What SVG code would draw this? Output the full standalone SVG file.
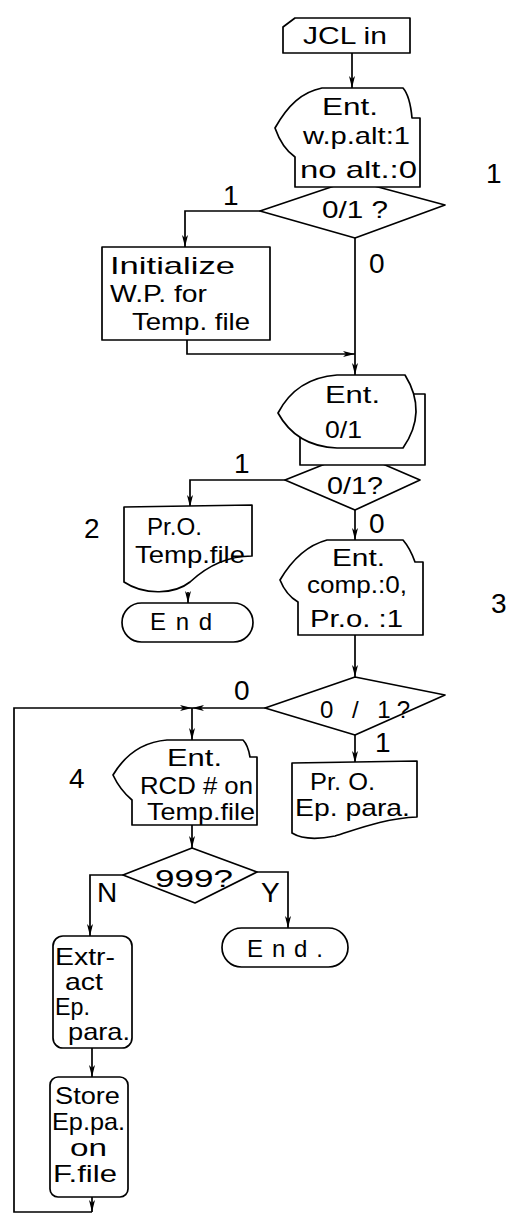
<svg xmlns="http://www.w3.org/2000/svg" width="521" height="1214" viewBox="0 0 521 1214">
<style>
.s{fill:#fff;stroke:#000;stroke-width:1.7;stroke-linejoin:round}
.c{fill:none;stroke:#000;stroke-width:1.7}
.t{font-family:"Liberation Sans",Arial,sans-serif;font-size:24px;fill:#000}
.l{font-family:"Liberation Sans",Arial,sans-serif;font-size:28px;fill:#000}
</style>
<defs>
<marker id="a" viewBox="0 0 12 6" refX="12" refY="3" markerWidth="12" markerHeight="6" markerUnits="userSpaceOnUse" orient="auto">
<path d="M0,0 L12,3 L0,6 L3,3 Z" fill="#000"/>
</marker>
</defs>
<rect width="521" height="1214" fill="#fff"/>
<g id="connectors">
<path class="c" d="M352,53 V88" marker-end="url(#a)"/>
<path class="c" d="M260,211 H185 V247" marker-end="url(#a)"/>
<path class="c" d="M355,238 V375" marker-end="url(#a)"/>
<path class="c" d="M187,340 V354 H355" marker-end="url(#a)"/>
<path class="c" d="M285,480 H190 V507" marker-end="url(#a)"/>
<path class="c" d="M355,510 V540" marker-end="url(#a)"/>
<path class="c" d="M188,592 V603" marker-end="url(#a)"/>
<path class="c" d="M355,635 V677" marker-end="url(#a)"/>
<path class="c" d="M265,708 H192" marker-end="url(#a)"/>
<path class="c" d="M92,1197 V1212" marker-end="url(#a)"/>
<path class="c" d="M92,1212 H14 V708 H192" marker-end="url(#a)"/>
<path class="c" d="M192,708 V740" marker-end="url(#a)"/>
<path class="c" d="M355,735 V763" marker-end="url(#a)"/>
<path class="c" d="M192,825 V848" marker-end="url(#a)"/>
<path class="c" d="M123,875 H90 V936" marker-end="url(#a)"/>
<path class="c" d="M257,872 H288 V928" marker-end="url(#a)"/>
<path class="c" d="M92,1048 V1077" marker-end="url(#a)"/>
</g>
<g id="labels">
<text class="l" x="223" y="205">1</text>
<text class="l" x="486" y="183">1</text>
<text class="l" x="369" y="273">0</text>
<text class="l" x="234" y="473">1</text>
<text class="l" x="369" y="533">0</text>
<text class="l" x="84" y="538">2</text>
<text class="l" x="491" y="613">3</text>
<text class="l" x="234" y="700">0</text>
<text class="l" x="375" y="752">1</text>
<text class="l" x="69" y="788">4</text>
<text class="l" x="97" y="902">N</text>
<text class="l" x="261" y="902">Y</text>
</g>
<g id="jcl">
<path class="s" d="M295,18 H410 V53 H283 V27 Z"/>
<text class="t" x="303" y="44" textLength="84" lengthAdjust="spacingAndGlyphs" font-size="29">JCL in</text>
</g>
<g id="d1">
<polygon class="s" points="260,211 352,180 445,205 355,238"/>
<text class="t" x="322" y="218" textLength="66" lengthAdjust="spacingAndGlyphs" font-size="27">0/1 ?</text>
</g>
<g id="in1">
<path class="s" d="M275,128 C288,105 302,92 322,88 H403 Q410,96 412,118 H420 V187 H295 V157 Q282,148 275,128 Z"/>
<text class="t" x="322" y="115" textLength="56" lengthAdjust="spacingAndGlyphs" font-size="25">Ent.</text>
<text class="t" x="303" y="144" textLength="107" lengthAdjust="spacingAndGlyphs" font-size="25">w.p.alt:1</text>
<text class="t" x="300" y="178" textLength="117" lengthAdjust="spacingAndGlyphs" font-size="25">no alt.:0</text>
</g>
<g id="init">
<rect class="s" x="102" y="247" width="168" height="93"/>
<text class="t" x="110" y="274" textLength="125" lengthAdjust="spacingAndGlyphs">Initialize</text>
<text class="t" x="110" y="302" textLength="97" lengthAdjust="spacingAndGlyphs">W.P. for</text>
<text class="t" x="132" y="330" textLength="118" lengthAdjust="spacingAndGlyphs">Temp. file</text>
</g>
<g id="d2">
<polygon class="s" points="285,480 355,452 420,480 355,510"/>
<text class="t" x="327" y="494" textLength="56" lengthAdjust="spacingAndGlyphs" font-size="26">0/1?</text>
</g>
<g id="disp">
<rect class="s" x="300" y="394" width="125" height="71"/>
<path class="s" d="M278,413 C290,390 310,377 337,375 H405 Q428,412 403,448 H337 C310,447 290,435 278,413 Z"/>
<text class="t" x="325" y="403" textLength="55" lengthAdjust="spacingAndGlyphs" font-size="27">Ent.</text>
<text class="t" x="325" y="438" textLength="37" lengthAdjust="spacingAndGlyphs" font-size="27">0/1</text>
</g>
<g id="prtemp">
<path class="s" d="M124,507 L252,505 L252,556 C225,556 205,568 190,582 C175,594 145,596 124,582 Z"/>
<text class="t" x="147" y="535" textLength="55" lengthAdjust="spacingAndGlyphs">Pr.O.</text>
<text class="t" x="135" y="563" textLength="110" lengthAdjust="spacingAndGlyphs">Temp.file</text>
</g>
<g id="end1">
<rect class="s" x="122" y="603" width="131" height="39" rx="19.5"/>
<text class="t" x="150" y="630" textLength="62" lengthAdjust="spacing" font-size="27">End</text>
</g>
<g id="in3">
<path class="s" d="M280,580 C293,558 308,545 327,540 H403 Q410,548 415,562 H423 V635 H298 V602 Q286,595 280,580 Z"/>
<text class="t" x="332" y="566" textLength="53" lengthAdjust="spacingAndGlyphs">Ent.</text>
<text class="t" x="307" y="593" textLength="100" lengthAdjust="spacingAndGlyphs">comp.:0,</text>
<text class="t" x="310" y="627" textLength="93" lengthAdjust="spacingAndGlyphs">Pr.o.  :1</text>
</g>
<g id="d3">
<polygon class="s" points="265,708 355,677 445,695 355,735"/>
<text class="t" x="320" y="718" textLength="90" lengthAdjust="spacing" font-size="27">0 / 1?</text>
</g>
<g id="in4">
<path class="s" d="M113,775 C125,755 142,742 167,740 H243 Q248,745 250,757 H257 V825 H132 V800 Q120,790 113,775 Z"/>
<text class="t" x="167" y="766" textLength="55" lengthAdjust="spacingAndGlyphs" font-size="23">Ent.</text>
<text class="t" x="140" y="794" textLength="113" lengthAdjust="spacingAndGlyphs" font-size="23">RCD # on</text>
<text class="t" x="147" y="820" textLength="108" lengthAdjust="spacingAndGlyphs" font-size="23">Temp.file</text>
</g>
<g id="prep">
<path class="s" d="M292,763 L417,761 V817 C385,818 355,830 335,836 C315,840 300,838 292,833 Z"/>
<text class="t" x="310" y="790" textLength="65" lengthAdjust="spacingAndGlyphs" font-size="23">Pr. O.</text>
<text class="t" x="295" y="816" textLength="115" lengthAdjust="spacingAndGlyphs" font-size="23">Ep. para.</text>
</g>
<g id="d4">
<polygon class="s" points="123,875 192,848 257,872 195,903"/>
<text class="t" x="155" y="887" textLength="78" lengthAdjust="spacingAndGlyphs" font-size="26">999?</text>
</g>
<g id="end2">
<rect class="s" x="222" y="928" width="126" height="39" rx="19.5"/>
<text class="t" x="247" y="957" textLength="76" lengthAdjust="spacing" font-size="27">End.</text>
</g>
<g id="extract">
<rect class="s" x="53" y="936" width="79" height="112" rx="10"/>
<text class="t" x="55" y="965" textLength="60" lengthAdjust="spacingAndGlyphs" font-size="21">Extr-</text>
<text class="t" x="65" y="990" textLength="38" lengthAdjust="spacingAndGlyphs" font-size="21">act</text>
<text class="t" x="55" y="1015" textLength="35" lengthAdjust="spacingAndGlyphs" font-size="21">Ep.</text>
<text class="t" x="68" y="1040" textLength="62" lengthAdjust="spacingAndGlyphs" font-size="21">para.</text>
</g>
<g id="store">
<rect class="s" x="50" y="1077" width="78" height="120" rx="8"/>
<text class="t" x="55" y="1104" textLength="65" lengthAdjust="spacingAndGlyphs" font-size="22">Store</text>
<text class="t" x="52" y="1130" textLength="73" lengthAdjust="spacingAndGlyphs" font-size="22">Ep.pa.</text>
<text class="t" x="70" y="1156" textLength="37" lengthAdjust="spacingAndGlyphs" font-size="22">on</text>
<text class="t" x="53" y="1182" textLength="64" lengthAdjust="spacingAndGlyphs" font-size="22">F.file</text>
</g>
</svg>
